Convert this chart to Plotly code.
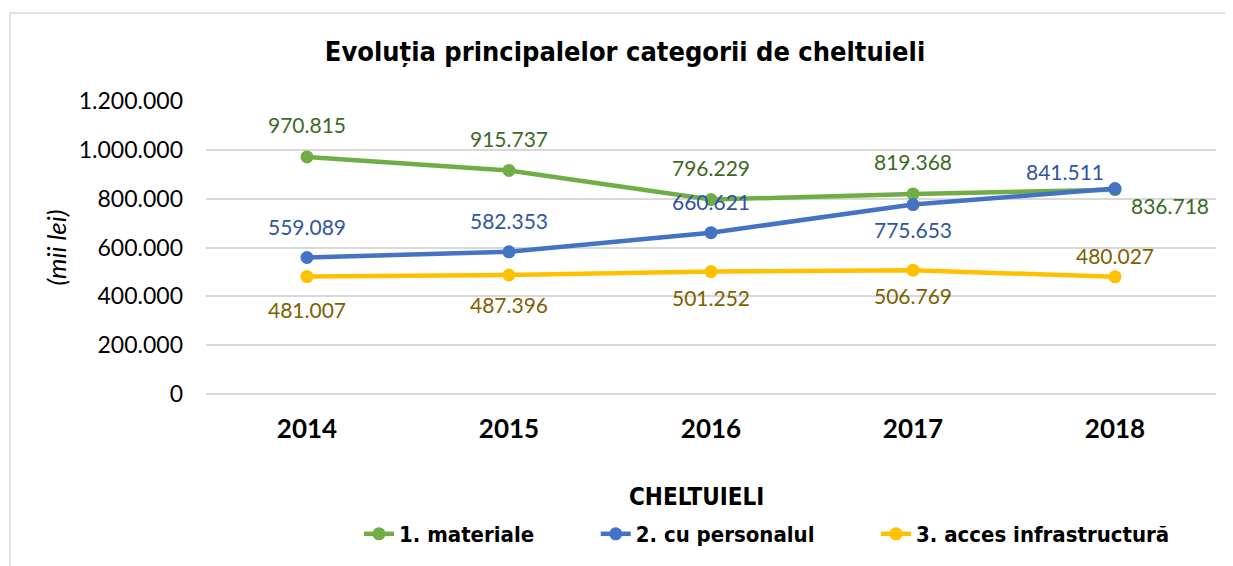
import plotly.graph_objects as go

years = ["2014", "2015", "2016", "2017", "2018"]
materiale = [970815, 915737, 796229, 819368, 836718]
personal = [559089, 582353, 660621, 775653, 841511]
infra = [481007, 487396, 501252, 506769, 480027]
series_names = ["1. materiale", "2. cu personalul", "3. acces infrastructură"]
legend_title = "CHELTUIELI"
y_ticks = [0, 200000, 400000, 600000, 800000, 1000000, 1200000]
y_tick_labels = ["0", "200.000", "400.000", "600.000", "800.000", "1.000.000", "1.200.000"]

line_colors = ["#70AD47", "#4472C4", "#FFC000"]
label_colors = ["#3A6B24", "#2F55A3", "#7F6000"]
# label offsets (dx, dy) in px per series / point
offsets = [
    [(0, -32), (0, -32), (0, -32), (0, -32), (55, 16)],
    [(0, -31), (0, -31), (0, -31), (0, 25), (-50, -17)],
    [(0, 33), (0, 30), (0, 26), (0, 25), (0, -21)],
]

def fmt(v):
    return f"{v:,}".replace(",", ".")

L, T, PW, PH = 198, 93, 1010, 293

def px_x(x):
    return (x - 8 - L) / PW

def px_y(y):
    return (T + PH - (y - 8)) / PH

fig = go.Figure()
annotations = []
pads = ["\u00a0" * 9, "\u00a0" * 9, ""]
for i, vals in enumerate([materiale, personal, infra]):
    fig.add_trace(go.Scatter(
        x=years, y=vals, name="<b>" + series_names[i] + "</b>" + pads[i], mode="lines+markers",
        line=dict(color=line_colors[i], width=4.5),
        marker=dict(color=line_colors[i], size=13),
    ))
    for j, v in enumerate(vals):
        dx, dy = offsets[i][j]
        annotations.append(dict(
            x=j, y=v, xref="x", yref="y", text=fmt(v), showarrow=False,
            xshift=dx, yshift=-dy,
            font=dict(family="Lato, Carlito, Calibri, sans-serif", size=21, color=label_colors[i]),
        ))

annotations.append(dict(
    x=px_x(696), y=px_y(497), xref="paper", yref="paper", showarrow=False,
    xanchor="center", yanchor="middle", text="<b>" + legend_title + "</b>",
    font=dict(family="DejaVu Sans Condensed, DejaVu Sans, sans-serif", size=24, color="black"),
))

fig.update_layout(
    width=1233, height=566,
    margin=dict(l=L, r=1233 - L - PW, t=T, b=566 - T - PH, autoexpand=False),
    paper_bgcolor="white", plot_bgcolor="white",
    title=dict(text="<b>Evoluția principalelor categorii de cheltuieli</b>",
               x=(625 - 8) / 1233, xanchor="center", y=1 - (52 - 8) / 566, yanchor="middle",
               font=dict(family="DejaVu Sans Condensed, DejaVu Sans, sans-serif", size=27, color="black")),
    xaxis=dict(type="category", range=[-0.5, 4.5], showgrid=False, showline=False, ticks="",
               tickvals=years, ticktext=["<b>" + y + "</b>" for y in years],
               tickfont=dict(family="Lato, sans-serif", size=26, color="black"),
               ticklabelstandoff=17, fixedrange=True),
    yaxis=dict(range=[0, 1200000], tickvals=y_ticks, ticktext=y_tick_labels,
               showgrid=True, gridcolor="#D9D9D9", gridwidth=1.5, zeroline=True,
               zerolinecolor="#D9D9D9", zerolinewidth=1.5, showline=False, ticks="",
               tickfont=dict(family="Lato, sans-serif", size=23, color="black"),
               ticklabelstandoff=22,
               title=dict(text="<i>(mii lei)</i>", standoff=4,
                          font=dict(family="Lato, sans-serif", size=26, color="black"))),
    legend=dict(orientation="h", x=px_x(359), xanchor="left", y=px_y(534), yanchor="middle",
                font=dict(family="DejaVu Sans Condensed, DejaVu Sans, sans-serif", size=22, color="black"),
                traceorder="normal", bgcolor="rgba(0,0,0,0)"),
    annotations=annotations,
    shapes=[dict(type="rect", xref="paper", yref="paper",
                 x0=px_x(10), x1=px_x(1250),
                 y0=px_y(580), y1=px_y(13),
                 line=dict(color="#D9D9D9", width=1.5), fillcolor="rgba(0,0,0,0)", layer="below")],
    showlegend=True,
)

fig.write_html("out.html")
